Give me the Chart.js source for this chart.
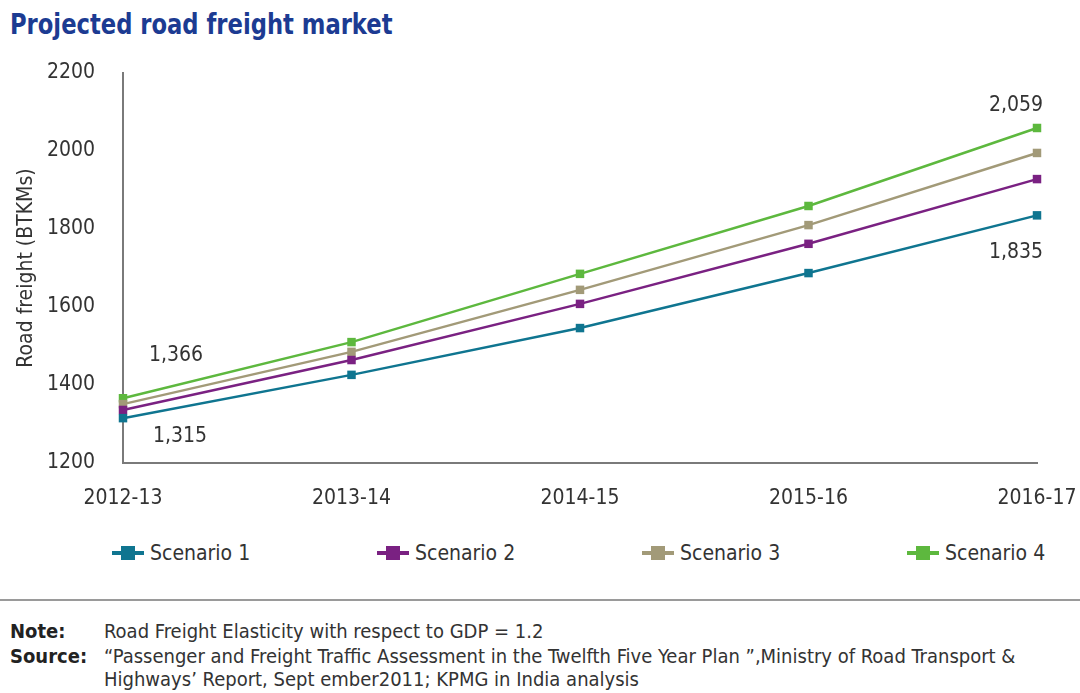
<!DOCTYPE html>
<html>
<head>
<meta charset="utf-8">
<script src="https://cdn.jsdelivr.net/npm/chart.js@4/dist/chart.umd.min.js"></script>
<style>
  html, body { margin: 0; padding: 0; background: #fff; }
  body { width: 1080px; height: 693px; position: relative; overflow: hidden;
         font-family: "DejaVu Sans Condensed", "Liberation Sans Narrow", sans-serif; }
  #title { position: absolute; left: 10px; top: 8px; font-size: 28px; font-weight: bold;
           color: #1c3b92; transform: scaleX(0.9); transform-origin: left top; white-space: nowrap; }
  #wrap { position: absolute; left: 0; top: 0; width: 1080px; height: 520px; }
  #legend { position: absolute; left: 112px; top: 541px; display: flex; }
  .item { display: flex; align-items: center; width: 265px; font-size: 21px; color: #333; }
  .mk { position: relative; width: 32px; height: 14px; margin-right: 6px; }
  .mk .ln { position: absolute; left: 0; right: 0; top: 5px; height: 4px; }
  .mk .sq { position: absolute; left: 9px; top: 0; width: 14px; height: 14px; }
  #rule { position: absolute; left: 0; top: 599px; width: 1080px; height: 2px; background: #9a9a9a; }
  .fn { position: absolute; font-size: 20px; color: #333; white-space: nowrap; }
  .fn b { color: #222; }
</style>
</head>
<body>
<div id="title">Projected road freight market</div>
<div id="wrap"><canvas id="c"></canvas></div>
<div id="legend"></div>
<div id="rule"></div>
<div class="fn" style="left:10px; top:619px;"><b>Note:</b></div>
<div class="fn" style="left:104px; top:619px;">Road Freight Elasticity with respect to GDP = 1.2</div>
<div class="fn" style="left:10px; top:644px;"><b>Source:</b></div>
<div class="fn" style="left:104px; top:644px;">“Passenger and Freight Traffic Assessment in the Twelfth Five Year Plan ”,Ministry of Road Transport &amp;</div>
<div class="fn" style="left:104px; top:667px;">Highways’ Report, Sept ember2011; KPMG in India analysis</div>
<script>
const categories = ["2012-13", "2013-14", "2014-15", "2015-16", "2016-17"];
const scenario1 = [1315, 1426, 1546, 1687, 1835];
const scenario2 = [1336, 1464, 1608, 1762, 1928];
const scenario3 = [1351, 1485, 1644, 1810, 1995];
const scenario4 = [1366, 1510, 1685, 1859, 2059];
const seriesNames = ["Scenario 1", "Scenario 2", "Scenario 3", "Scenario 4"];
const seriesColors = ["#0f7590", "#7a2182", "#a29a78", "#5db83e"];
const yTicks = [1200, 1400, 1600, 1800, 2000, 2200];
// value annotations: series index, point index, offset from point
const valueLabels = [
  { s: 3, i: 0, dx: 53, dy: -43, align: "center" },
  { s: 0, i: 0, dx: 57, dy: 18, align: "center" },
  { s: 3, i: 4, dx: 6, dy: -22, align: "right" },
  { s: 0, i: 4, dx: 6, dy: 37, align: "right" }
];

const FONT = '"DejaVu Sans Condensed", "Liberation Sans Narrow", sans-serif';
const allSeries = [scenario1, scenario2, scenario3, scenario4];

const datasets = allSeries.map((d, k) => ({
  label: seriesNames[k],
  data: d,
  borderColor: seriesColors[k],
  backgroundColor: seriesColors[k],
  borderWidth: 2.5,
  pointStyle: "rect",
  pointRadius: 6,
  pointHoverRadius: 6,
  pointBorderWidth: 0,
  tension: 0
}));

const labelPlugin = {
  id: "valueLabels",
  afterDatasetsDraw(chart) {
    const ctx = chart.ctx;
    ctx.save();
    ctx.font = "21px " + FONT;
    ctx.fillStyle = "#333";
    ctx.textBaseline = "middle";
    valueLabels.forEach(v => {
      const pt = chart.getDatasetMeta(v.s).data[v.i];
      const val = allSeries[v.s][v.i];
      ctx.textAlign = v.align;
      ctx.fillText(val.toLocaleString("en-US"), pt.x + v.dx, pt.y + v.dy);
    });
    ctx.restore();
  }
};

new Chart(document.getElementById("c"), {
  type: "line",
  data: { labels: categories, datasets },
  plugins: [labelPlugin],
  options: {
    responsive: true,
    maintainAspectRatio: false,
    animation: false,
    layout: { padding: { top: 73, right: 43, left: 0, bottom: 0 } },
    plugins: { legend: { display: false }, tooltip: { enabled: false } },
    scales: {
      x: {
        offset: false,
        grid: { display: false, drawTicks: false },
        border: { display: true, color: "#7a7a7a", width: 2 },
        ticks: { color: "#333", font: { family: FONT, size: 21 }, padding: 23, maxRotation: 0, autoSkip: false },
        afterFit(s) { s.height = 57; s.paddingLeft = 0; s.paddingRight = 0; }
      },
      y: {
        min: 1200, max: 2200,
        afterBuildTicks(s) { s.ticks = yTicks.map(v => ({ value: v })); },
        grid: { display: false, drawTicks: false },
        border: { display: true, color: "#7a7a7a", width: 2 },
        ticks: { color: "#333", font: { family: FONT, size: 21 }, padding: 28, callback: v => String(v) },
        title: { display: true, text: "Road freight (BTKMs)", color: "#333", font: { family: FONT, size: 21 }, padding: { top: 14, bottom: 0 } },
        afterFit(s) { s.width = 123; }
      }
    }
  }
});

const legend = document.getElementById("legend");
seriesNames.forEach((n, k) => {
  const it = document.createElement("div");
  it.className = "item";
  it.innerHTML = '<span class="mk"><span class="ln" style="background:' + seriesColors[k] +
    '"></span><span class="sq" style="background:' + seriesColors[k] + '"></span></span>' + n;
  legend.appendChild(it);
});
</script>
</body>
</html>
